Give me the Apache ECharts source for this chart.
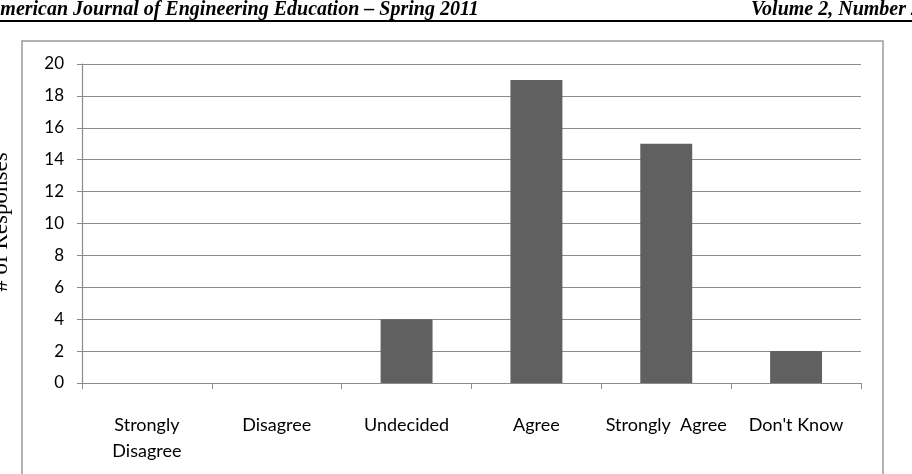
<!DOCTYPE html>
<html>
<head>
<meta charset="utf-8">
<script src="https://cdn.jsdelivr.net/npm/echarts@6/dist/echarts.min.js"></script>
<style>
  html, body { margin: 0; padding: 0; background: #fff; }
  #chart { width: 912px; height: 474px; }
</style>
</head>
<body>
<div id="chart"></div>
<script>
// survey answers
var categories = ['Strongly\nDisagree', 'Disagree', 'Undecided', 'Agree', 'Strongly  Agree', "Don't Know"];
var responses = [0, 0, 4, 19, 15, 2];
var yTicks = { min: 0, max: 20, interval: 2 };

var chart = echarts.init(document.getElementById('chart'));
chart.setOption({
  animation: false,
  grid: {
    left: 82,
    right: 51,
    top: 64,
    bottom: 91
  },
  graphic: [
    // page header
    {
      type: 'text',
      left: -13,
      top: 0,
      style: {
        text: 'American Journal of Engineering Education \u2013 Spring 2011',
        font: 'italic bold 20px "Liberation Serif"',
        fill: '#000'
      }
    },
    {
      type: 'text',
      right: -9,
      top: 0,
      style: {
        text: 'Volume 2, Number 2',
        font: 'italic bold 20px "Liberation Serif"',
        fill: '#000'
      }
    },
    {
      type: 'rect',
      shape: { x: 0, y: 20, width: 912, height: 2 },
      style: { fill: '#000' }
    },
    // chart frame
    {
      type: 'rect',
      shape: { x: 22, y: 41, width: 861, height: 460 },
      style: { fill: 'none', stroke: '#9a9a9a', lineWidth: 1.5 }
    },
    // axis title, cut by page edge
    {
      type: 'text',
      x: 1,
      y: 222,
      rotation: Math.PI / 2,
      style: {
        text: '# of Responses',
        font: '23px "Liberation Serif"',
        fill: '#000',
        align: 'center',
        verticalAlign: 'middle'
      }
    }
  ],
  xAxis: {
    type: 'category',
    data: categories,
    axisLine: { lineStyle: { color: '#8c8c8c', width: 1.2 } },
    axisTick: { show: true, length: 6, lineStyle: { color: '#8c8c8c' } },
    axisLabel: {
      interval: 0,
      color: '#000',
      fontFamily: 'Lato',
      fontSize: 18,
      lineHeight: 26,
      margin: 29
    }
  },
  yAxis: {
    type: 'value',
    min: yTicks.min,
    max: yTicks.max,
    interval: yTicks.interval,
    axisLine: { show: true, lineStyle: { color: '#8c8c8c', width: 1.2 } },
    axisTick: { show: true, length: 5, lineStyle: { color: '#8c8c8c' } },
    splitLine: { lineStyle: { color: '#8c8c8c', width: 1.2 } },
    axisLabel: {
      color: '#000',
      fontFamily: 'Lato',
      fontSize: 17,
      margin: 18
    }
  },
  series: [
    {
      type: 'bar',
      data: responses,
      barWidth: '40%',
      itemStyle: { color: '#606060' }
    }
  ]
});
</script>
</body>
</html>
